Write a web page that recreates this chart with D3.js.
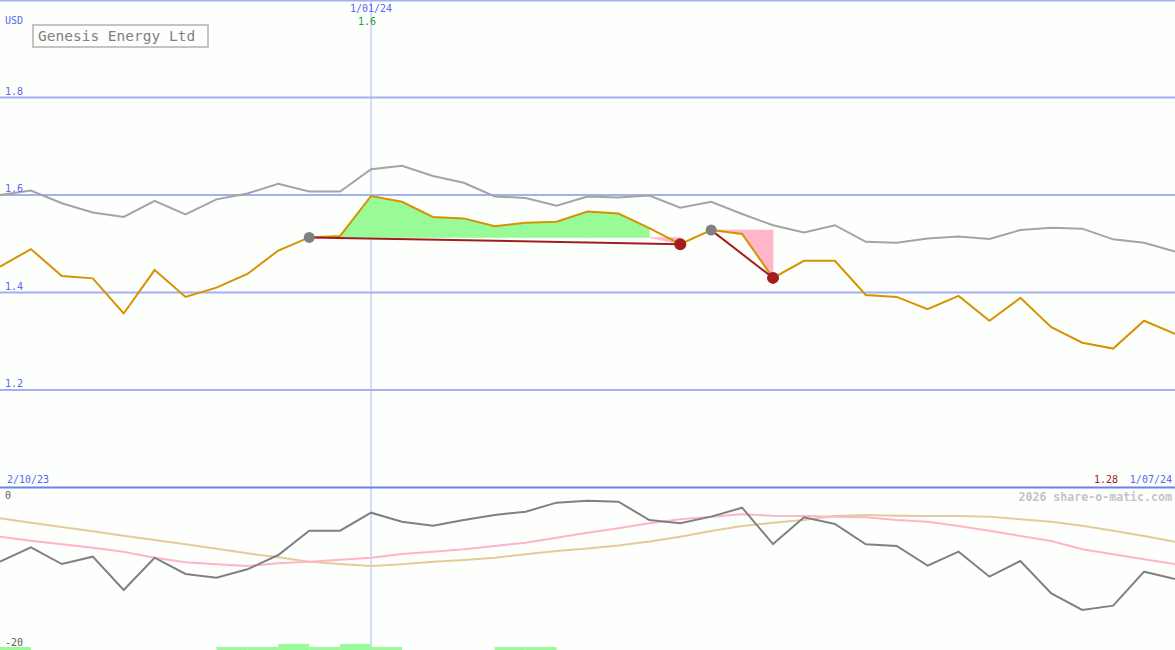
<!DOCTYPE html>
<html>
<head>
<meta charset="utf-8">
<script src="https://cdn.jsdelivr.net/npm/d3@7"></script>
<style>
  body { margin: 0; background: #fdfffd; }
  svg { display: block; }
  text { font-family: "DejaVu Sans Mono", monospace; }
</style>
</head>
<body>
<script>
// weekly closes, 2/10/23 .. 1/07/24
var price = [1.453, 1.489, 1.434, 1.429, 1.357, 1.446, 1.391, 1.410, 1.438, 1.486,
    1.513, 1.516, 1.598, 1.586, 1.555, 1.552, 1.536, 1.543, 1.545, 1.566,
    1.562, 1.532, 1.499, 1.528, 1.520, 1.430, 1.465, 1.465, 1.395, 1.391,
    1.366, 1.393, 1.342, 1.389, 1.329, 1.297, 1.285, 1.342, 1.315];
var avgLine = [1.600, 1.609, 1.583, 1.564, 1.555, 1.588, 1.560, 1.591, 1.603, 1.623,
    1.607, 1.607, 1.653, 1.660, 1.639, 1.625, 1.597, 1.594, 1.578, 1.597,
    1.595, 1.599, 1.574, 1.586, 1.561, 1.538, 1.523, 1.538, 1.504, 1.502,
    1.511, 1.515, 1.510, 1.528, 1.533, 1.531, 1.509, 1.502, 1.484];
var osc = [-9.07, -7.26, -9.37, -8.44, -12.66, -8.57, -10.63, -11.10, -10.04, -8.23,
    -5.15, -5.15, -2.87, -4.01, -4.51, -3.80, -3.16, -2.74, -1.60, -1.35,
    -1.48, -3.80, -4.22, -3.37, -2.24, -6.84, -3.46, -4.30, -6.88, -7.09,
    -9.58, -7.81, -10.97, -8.99, -13.08, -15.19, -14.64, -10.34, -11.27];
var oscFast = [-5.91, -6.42, -6.87, -7.30, -7.81, -8.57, -9.15, -9.41, -9.62, -9.28,
    -9.08, -8.82, -8.57, -8.10, -7.81, -7.51, -7.09, -6.67, -6.04, -5.41,
    -4.85, -4.22, -3.71, -3.38, -3.08, -3.25, -3.29, -3.38, -3.46, -3.80,
    -4.01, -4.56, -5.15, -5.82, -6.46, -7.51, -8.14, -8.77, -9.37];
var oscSlow = [-3.58, -4.14, -4.68, -5.23, -5.78, -6.33, -6.87, -7.43, -8.01, -8.52,
    -9.08, -9.37, -9.62, -9.41, -9.08, -8.86, -8.57, -8.14, -7.72, -7.41,
    -7.03, -6.52, -5.91, -5.19, -4.56, -4.14, -3.80, -3.29, -3.16, -3.25,
    -3.29, -3.29, -3.38, -3.71, -4.01, -4.52, -5.15, -5.82, -6.54];
// small bars along the bottom, one per week interval
var weekBars = [1, 0, 0, 0, 0, 0, 0, 1, 1, 2, 1, 2, 1, 0, 0, 0, 1, 1, 0, 0,
    0, 0, 0, 0, 0, 0, 0, 0, 0, 0, 0, 0, 0, 0, 0, 0, 0, 0];
// trades: entry and exit week index
var tradeStart = [10, 23];
var tradeEnd = [22, 25];

var priceTicks = [1.2, 1.4, 1.6, 1.8];
var startLabel = "2/10/23", endLabel = "1/07/24";
var markLabel = "1/01/24", markIndex = 12;
var maxLabel = "1.6", minLabel = "1.28";
var title = "Genesis Energy Ltd";

var W = 1175, H = 650;
var svg = d3.select("body").append("svg").attr("width", W).attr("height", H);
svg.append("rect").attr("width", W).attr("height", H).attr("fill", "#fdfffd");

var x = d3.scaleLinear().domain([0, price.length - 1]).range([0, W]);
var y = d3.scaleLinear().domain([1.0, 2.0]).range([487.5, 0]);
var y2 = d3.scaleLinear().domain([-20, 0]).range([648, 490]);
var yBar = d3.scaleLinear().domain([0, 2]).range([650, 644]);

// grid
svg.selectAll(".grid").data(priceTicks).enter().append("line")
    .attr("x1", 0).attr("x2", W)
    .attr("y1", d => y(d)).attr("y2", d => y(d))
    .attr("stroke", "#a4b0f0").attr("stroke-width", 2);
svg.append("line").attr("x1", 0).attr("x2", W).attr("y1", 0.5).attr("y2", 0.5)
    .attr("stroke", "#a4b0f0").attr("stroke-width", 2);
svg.append("line").attr("x1", x(markIndex)).attr("x2", x(markIndex))
    .attr("y1", 0).attr("y2", H)
    .attr("stroke", "#a8b8f8").attr("stroke-width", 1);

// trade fills, one piece per week: green if the week closes above entry, pink if below
tradeStart.forEach((s, k) => {
    var e = tradeEnd[k];
    var lvl = y(price[s]);
    d3.range(s, e).forEach(i => {
        var up = price[i + 1] >= price[s];
        var col = up ? "#98fb98" : "#ffb6c8";
        svg.append("path").datum([i, i + 1])
            .attr("fill", col).attr("stroke", col).attr("stroke-width", 0.6)
            .attr("d", d3.area().x(j => x(j)).y0(lvl)
                .y1(j => up ? Math.min(y(price[j]), lvl) : Math.max(y(price[j]), lvl)));
    });
});

var line = d3.line().x((d, i) => x(i)).y(d => y(d));
svg.append("path").datum(avgLine).attr("fill", "none")
    .attr("stroke", "#a4a4a4").attr("stroke-width", 2).attr("d", line);
svg.append("path").datum(price).attr("fill", "none")
    .attr("stroke", "#d69200").attr("stroke-width", 2).attr("d", line);

// trade lines and markers
tradeStart.forEach((s, k) => {
    var e = tradeEnd[k];
    svg.append("line")
        .attr("x1", x(s)).attr("y1", y(price[s]))
        .attr("x2", x(e)).attr("y2", y(price[e]))
        .attr("stroke", "#a21e1e").attr("stroke-width", 2);
    svg.append("circle").attr("cx", x(s)).attr("cy", y(price[s])).attr("r", 5.5)
        .attr("fill", "#808080");
    svg.append("circle").attr("cx", x(e)).attr("cy", y(price[e])).attr("r", 6)
        .attr("fill", "#a21e1e");
});

// separator
svg.append("line").attr("x1", 0).attr("x2", W).attr("y1", 487.5).attr("y2", 487.5)
    .attr("stroke", "#7080ea").attr("stroke-width", 2);

// lower panel
var line2 = d3.line().x((d, i) => x(i)).y(d => y2(d));
svg.append("path").datum(oscSlow).attr("fill", "none")
    .attr("stroke", "#e4cc98").attr("stroke-width", 2).attr("d", line2);
svg.append("path").datum(oscFast).attr("fill", "none")
    .attr("stroke", "#ffb4c8").attr("stroke-width", 2).attr("d", line2);
svg.append("path").datum(osc).attr("fill", "none")
    .attr("stroke", "#808080").attr("stroke-width", 2).attr("d", line2);

svg.selectAll(".bar").data(weekBars).enter().append("rect")
    .attr("x", (d, i) => x(i)).attr("width", (d, i) => x(i + 1) - x(i))
    .attr("y", d => yBar(d)).attr("height", d => yBar(0) - yBar(d))
    .attr("fill", "#98fb98");

// labels
function label(t, lx, ly, color, anchor, size, weight) {
    svg.append("text").text(t).attr("x", lx).attr("y", ly)
        .attr("fill", color).attr("font-size", size || 10)
        .attr("font-weight", weight || "normal")
        .attr("text-anchor", anchor || "start");
}
label("USD", 5, 24, "#5868f0");
priceTicks.forEach(t => label(d3.format(".1f")(t), 5, y(t) - 3, "#5868f0"));
label(markLabel, x(markIndex), 12, "#5868f0", "middle");
label(maxLabel, x(markIndex) - 4, 25, "#20a020", "middle");
label(startLabel, 7, 483, "#5868f0");
label(endLabel, 1172, 483, "#5868f0", "end");
label(minLabel, 1118, 483, "#a21e1e", "end");
label("0", 5, 499, "#606060");
label("-20", 5, 646, "#606060");
label("2026 share-o-matic.com", 1172, 501, "#c4c4c4", "end", 11.6, "bold");

svg.append("rect").attr("x", 33).attr("y", 25).attr("width", 175).attr("height", 22)
    .attr("fill", "none").attr("stroke", "#c4c4c4").attr("stroke-width", 2);
label(title, 38, 41, "#808080", "start", 14.5);
</script>
</body>
</html>
